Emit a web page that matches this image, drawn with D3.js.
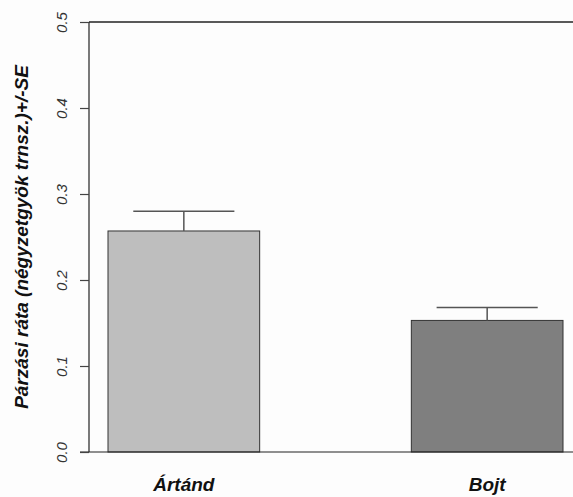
<!DOCTYPE html>
<html>
<head>
<meta charset="utf-8">
<script src="https://cdn.jsdelivr.net/npm/d3@7/dist/d3.min.js"></script>
<style>
  html, body { margin: 0; padding: 0; background: #ffffff; }
  svg { display: block; }
</style>
</head>
<body>
<div id="chart"></div>
<script>
const categories = ["Ártánd", "Bojt"];
const values = [0.257, 0.153];
const seUpper = [0.280, 0.168];
const yTicks = [0.0, 0.1, 0.2, 0.3, 0.4, 0.5];
const barColors = ["#bebebe", "#7f7f7f"];
const yTitle = "Párzási ráta (négyzetgyök trnsz.)+/-SE";

const W = 573, H = 497;
const svg = d3.select("#chart").append("svg").attr("width", W).attr("height", H);
svg.append("rect").attr("width", W).attr("height", H).attr("fill", "#fdfdfd");

const y = d3.scaleLinear().domain([0, 0.5]).range([452, 22]);
const x = d3.scaleBand().domain(categories).range([108, 563]).paddingInner(0.5).paddingOuter(0);
const axisX = 89;

// bars
svg.selectAll("rect.bar").data(categories).enter().append("rect")
  .attr("class", "bar")
  .attr("x", d => x(d))
  .attr("width", x.bandwidth())
  .attr("y", (d, i) => y(values[i]))
  .attr("height", (d, i) => y(0) - y(values[i]))
  .attr("fill", (d, i) => barColors[i])
  .attr("stroke", "#333")
  .attr("stroke-width", 1);

// error bars
const capHalf = x.bandwidth() / 3;
categories.forEach((c, i) => {
  const cx = x(c) + x.bandwidth() / 2;
  svg.append("line").attr("x1", cx).attr("x2", cx)
    .attr("y1", y(values[i])).attr("y2", y(seUpper[i]))
    .attr("stroke", "#555").attr("stroke-width", 1.5);
  svg.append("line").attr("x1", cx - capHalf).attr("x2", cx + capHalf)
    .attr("y1", y(seUpper[i])).attr("y2", y(seUpper[i]))
    .attr("stroke", "#555").attr("stroke-width", 1.5);
});

// frame lines: left axis, bottom baseline, top line
svg.append("line").attr("x1", axisX).attr("x2", axisX).attr("y1", y(0.5)).attr("y2", y(0))
  .attr("stroke", "#222").attr("stroke-width", 1.2);
svg.append("line").attr("x1", 80).attr("x2", W).attr("y1", y(0)).attr("y2", y(0))
  .attr("stroke", "#222").attr("stroke-width", 1.2);
svg.append("line").attr("x1", axisX).attr("x2", W).attr("y1", y(0.5)).attr("y2", y(0.5))
  .attr("stroke", "#222").attr("stroke-width", 1.5);

// y axis ticks
const yAxis = d3.axisLeft(y).tickValues(yTicks).tickFormat(d3.format(".1f")).tickSize(9).tickPadding(0);
const gy = svg.append("g").attr("transform", `translate(${axisX},0)`).call(yAxis);
gy.select(".domain").remove();
gy.selectAll(".tick line").attr("stroke", "#444").attr("stroke-width", 1.2);
gy.selectAll(".tick text")
  .attr("x", 0)
  .attr("y", 0)
  .attr("dy", "0.36em")
  .attr("text-anchor", "middle")
  .attr("transform", `translate(${62 - axisX},0) rotate(-90)`)
  .attr("font-family", "Arial, 'Liberation Sans', sans-serif")
  .attr("font-style", "italic")
  .attr("font-size", 15)
  .attr("fill", "#333");

// x category labels
svg.selectAll("text.cat").data(categories).enter().append("text")
  .attr("class", "cat")
  .attr("x", d => x(d) + x.bandwidth() / 2)
  .attr("y", 491)
  .attr("text-anchor", "middle")
  .attr("font-family", "Arial, 'Liberation Sans', sans-serif")
  .attr("font-style", "italic")
  .attr("font-weight", "bold")
  .attr("font-size", 19)
  .attr("fill", "#111")
  .text(d => d);

// y title
svg.append("text")
  .attr("transform", `translate(28,237) rotate(-90)`)
  .attr("text-anchor", "middle")
  .attr("font-family", "Arial, 'Liberation Sans', sans-serif")
  .attr("font-style", "italic")
  .attr("font-weight", "bold")
  .attr("font-size", 19)
  .attr("fill", "#111")
  .text(yTitle);
</script>
</body>
</html>
